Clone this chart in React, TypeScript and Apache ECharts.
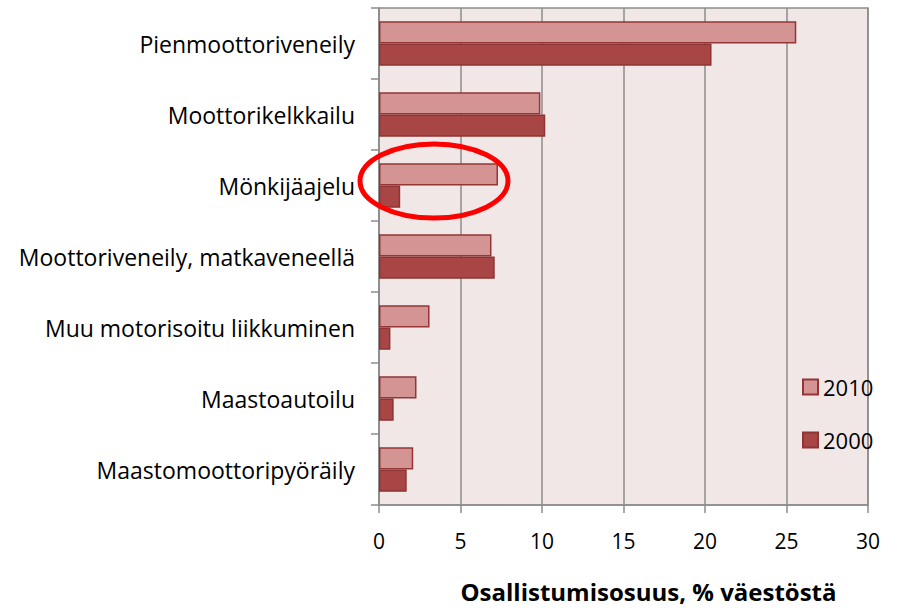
import React, { useEffect, useRef } from "react";
import * as echarts from "echarts";

const categories = [
  "Pienmoottoriveneily",
  "Moottorikelkkailu",
  "Mönkijäajelu",
  "Moottoriveneily, matkaveneellä",
  "Muu motorisoitu liikkuminen",
  "Maastoautoilu",
  "Maastomoottoripyöräily",
];
const values2010 = [25.6, 9.9, 7.3, 6.9, 3.1, 2.3, 2.1];
const values2000 = [20.4, 10.2, 1.3, 7.1, 0.7, 0.9, 1.7];
const xTicks = [0, 5, 10, 15, 20, 25, 30];

const FONT = "'Open Sans', 'Noto Sans', sans-serif";

export default function App() {
  const ref = useRef<HTMLDivElement>(null);
  useEffect(() => {
    if (!ref.current) return;
    const chart = echarts.init(ref.current, null, { renderer: "svg" });
    chart.setOption({
      animation: false,
      backgroundColor: "#ffffff",
      grid: {
        left: 379,
        right: 29,
        top: 8,
        bottom: 99,
        show: true,
        backgroundColor: "#f2e7e7",
        borderColor: "#8c8c8c",
        borderWidth: 1.5,
      },
      legend: {
        orient: "vertical",
        left: 797,
        top: 371,
        icon: "rect",
        itemWidth: 15,
        itemHeight: 15,
        itemGap: 31,
        textStyle: { fontFamily: FONT, fontSize: 22, color: "#000" },
        data: ["2010", "2000"],
      },
      xAxis: {
        type: "value",
        min: xTicks[0],
        max: xTicks[xTicks.length - 1],
        interval: 5,
        axisLine: { show: true, lineStyle: { color: "#8c8c8c", width: 1.5 } },
        axisTick: { show: true, length: 8, lineStyle: { color: "#8c8c8c", width: 1.5 } },
        splitLine: { show: true, lineStyle: { color: "#8c8c8c", width: 1.5 } },
        axisLabel: { fontFamily: FONT, fontSize: 21, color: "#000", margin: 25 },
        name: "Osallistumisosuus, % väestöstä",
        nameLocation: "middle",
        nameGap: 74,
        nameTextStyle: { fontFamily: FONT, fontSize: 24, fontWeight: "bold", color: "#000", padding: [0, 0, 0, 50] },
      },
      yAxis: {
        type: "category",
        data: categories,
        inverse: true,
        axisLine: { show: true, lineStyle: { color: "#8c8c8c", width: 1.5 } },
        axisTick: { show: true, length: 8, lineStyle: { color: "#8c8c8c", width: 1.5 } },
        axisLabel: { fontFamily: FONT, fontSize: 23, color: "#000", margin: 24 },
      },
      series: [
        {
          name: "2010",
          type: "bar",
          data: values2010,
          barGap: "0%",
          barCategoryGap: "37%",
          itemStyle: { color: "#d49494", borderColor: "#943636", borderWidth: 1.5 },
        },
        {
          name: "2000",
          type: "bar",
          data: values2000,
          barGap: "0%",
          barCategoryGap: "37%",
          itemStyle: { color: "#a84646", borderColor: "#8e3434", borderWidth: 1.5 },
        },
      ],
      graphic: [
        {
          type: "ellipse",
          shape: { cx: 434, cy: 181, rx: 74, ry: 37 },
          style: { fill: "none", stroke: "#ff0000", lineWidth: 5 },
          z: 100,
        },
      ],
    });
    return () => chart.dispose();
  }, []);
  return <div ref={ref} style={{ width: 897, height: 608, position: "absolute", left: 0, top: 0 }} />;
}
